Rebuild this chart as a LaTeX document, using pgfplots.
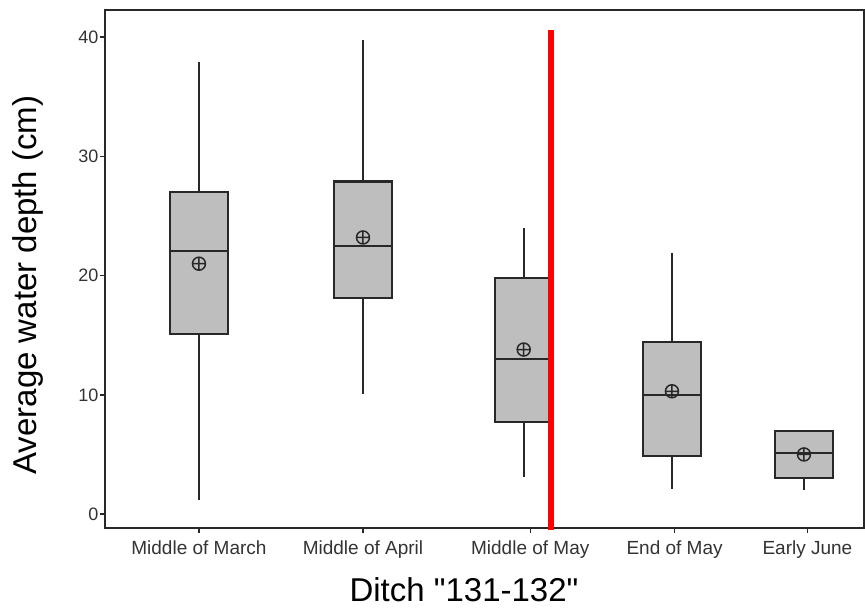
\documentclass[border=0pt]{standalone}
\usepackage{pgfplots}
\pgfplotsset{compat=1.18}
\usepgfplotslibrary{statistics}
\usepackage{fontspec}
\setmainfont{Liberation Sans}[Ligatures=TeXOff]

\definecolor{boxfill}{RGB}{190,190,190}
\definecolor{edge}{RGB}{40,40,40}

\begin{document}
\begin{tikzpicture}
\useasboundingbox (-105pt,-83pt) rectangle (760pt,528pt);
\begin{axis}[
    at={(0,0)}, anchor=south west,
    scale only axis,
    width=759pt, height=518pt,
    xmin=0.427, xmax=5.055,
    ymin=-1.17, ymax=42.28,
    xtick={1,2,3.02,3.90,4.71},
    xticklabels={Middle of March,Middle of April,Middle of May,End of May,Early June},
    ytick={0,10,20,30,40},
    tick align=outside,
    major tick length=5pt,
    xtick pos=bottom, ytick pos=left,
    axis line style={edge, line width=2pt},
    tick style={edge, line width=1.5pt},
    /pgf/number format/assume math mode=true,
    xticklabel style={font=\fontsize{19}{22}\selectfont, text=black!80, yshift=-4pt},
    yticklabel style={font=\fontsize{18}{20}\selectfont, text=black!80, xshift=2pt},
    xlabel={Ditch "131-132"},
    ylabel={Average water depth (cm)},
    xlabel style={font=\fontsize{33}{36}\selectfont, at={(rel axis cs:0.473,0)}, anchor=center, yshift=-62pt},
    ylabel style={font=\fontsize{33}{36}\selectfont, at={(rel axis cs:0,0.469)}, anchor=center, yshift=77pt},
    clip=false,
    boxplot/draw direction=y,
    boxplot/whisker extend=0,
    boxplot/box extend=0.35,
    boxplot/every median/.style={line width=2pt},
    boxplot/every box/.style={line width=2.2pt},
    boxplot/every whisker/.style={line width=1.8pt},
]
% boxes: draw position, whiskers, quartiles, median
\addplot[boxplot prepared={draw position=1, lower whisker=1.2, lower quartile=15.1, median=22.1, upper quartile=27.0, upper whisker=37.9}, fill=boxfill, draw=edge] coordinates {};
\addplot[boxplot prepared={draw position=2, lower whisker=10.1, lower quartile=18.1, median=22.5, upper quartile=27.9, upper whisker=39.8}, fill=boxfill, draw=edge] coordinates {};
\addplot[boxplot prepared={draw position=2.98, lower whisker=3.1, lower quartile=7.7, median=13.0, upper quartile=19.8, upper whisker=24.0}, fill=boxfill, draw=edge] coordinates {};
\addplot[boxplot prepared={draw position=3.884, lower whisker=2.1, lower quartile=4.9, median=10.0, upper quartile=14.4, upper whisker=21.9}, fill=boxfill, draw=edge] coordinates {};
\addplot[boxplot prepared={draw position=4.689, lower whisker=2.0, lower quartile=3.0, median=5.1, upper quartile=7.0, upper whisker=7.0}, fill=boxfill, draw=edge] coordinates {};
% means
\addplot[only marks, mark=oplus, mark size=6.5pt, mark options={draw=edge, fill=boxfill, line width=1.5pt}] coordinates {
    (1,21.0) (2,23.2) (2.98,13.8) (3.884,10.3) (4.689,5.0)
};
% red divider
\addplot[red, line width=6pt] coordinates {(3.146,-1.34) (3.146,40.6)};
\end{axis}
\end{tikzpicture}
\end{document}
